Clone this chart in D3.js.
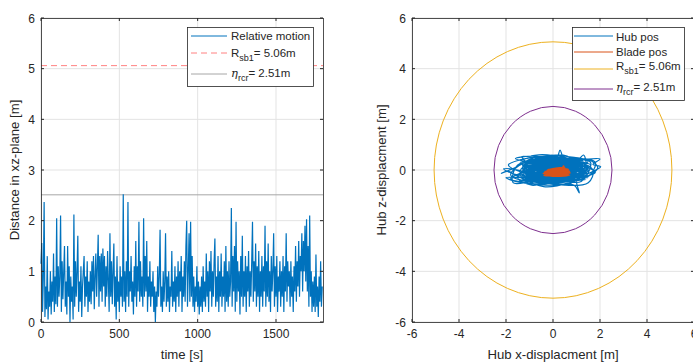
<!DOCTYPE html>
<html><head><meta charset="utf-8">
<script src="https://cdn.jsdelivr.net/npm/d3@7/dist/d3.min.js"></script>
<style>
body{margin:0;background:#fff;}
svg{display:block;font-family:"Liberation Sans",Arial,Helvetica,sans-serif;}
</style></head><body>
<svg id="c" width="693" height="362"></svg>
<script>
// ---------- data ----------
const timeStep = 5; // s between samples
const relMotion = [
1.15,1.56,0.2,0.9,2.37,0.1,0.7,0.25,1.3,0.05,
0.6,0.3,1.0,0.15,0.8,0.4,1.35,0.2,0.9,0.35,
2.05,0.3,1.1,0.5,0.9,2.1,0.2,1.2,0.45,1.0,
1.5,0.3,0.8,0.15,1.5,0.5,1.1,0.0,0.9,0.4,
0.7,0.05,2.12,0.3,1.2,0.5,1.0,1.7,0.2,0.8,
0.4,1.1,0.1,0.7,1.0,1.3,0.3,0.9,0.5,1.2,
0.2,0.8,0.4,1.0,0.35,1.2,0.6,1.3,0.25,0.9,
1.35,0.5,1.1,1.72,0.3,1.3,0.6,1.35,0.4,1.45,
0.7,1.3,0.3,1.1,0.5,1.4,0.8,0.2,1.75,0.5,
1.2,0.35,1.0,1.55,0.3,0.9,0.05,1.3,0.4,0.8,
0.2,1.1,0.5,0.9,0.3,2.52,0.4,1.0,0.2,1.2,
0.5,2.37,0.3,1.0,0.6,1.3,0.4,0.8,0.15,1.1,
0.5,1.6,0.3,1.1,0.6,1.98,0.4,1.2,0.5,0.9,
0.3,2.05,0.5,1.3,0.6,1.6,0.2,0.9,0.5,1.2,
0.3,0.8,0.5,1.0,0.2,0.7,0.0,0.6,0.3,1.1,
0.5,0.9,1.82,0.3,0.7,0.2,1.0,0.4,0.8,1.75,
0.3,0.9,0.4,1.0,0.2,0.7,0.5,1.4,0.3,0.8,
0.4,1.1,0.2,0.9,0.5,1.2,0.3,1.0,0.6,1.3,
0.2,0.9,0.5,1.2,0.4,1.5,2.0,0.3,1.0,1.75,
0.4,1.98,0.5,1.3,0.3,0.9,0.2,0.7,0.4,1.1,
0.3,0.8,0.15,0.7,0.3,0.9,0.2,1.1,0.4,0.8,
0.3,1.35,0.5,1.0,0.2,1.2,0.6,1.4,0.3,1.0,
0.5,1.2,1.65,0.3,0.9,0.4,1.3,0.2,1.0,0.5,
1.35,0.3,0.9,0.5,1.2,0.2,1.5,0.4,1.0,0.3,
1.2,0.5,0.8,2.25,0.3,1.3,0.6,1.5,0.2,1.98,
0.4,1.2,0.6,1.0,0.15,1.3,0.5,1.7,0.3,1.0,
0.5,1.3,0.2,1.1,0.6,1.4,0.3,1.0,0.5,1.2,
1.98,0.4,1.2,0.6,1.55,0.3,1.1,0.5,1.4,0.2,
1.0,0.5,1.3,0.3,1.1,0.6,1.9,0.3,1.2,0.5,
1.55,0.4,1.0,0.2,1.3,0.6,1.0,1.75,0.3,1.1,
0.5,1.3,0.2,0.9,0.6,1.2,0.3,1.0,0.5,1.3,
0.2,1.1,0.6,1.75,0.4,1.2,0.7,1.0,0.3,1.2,
0.5,0.9,0.2,1.1,0.6,1.5,0.4,1.2,0.7,1.6,
0.5,1.3,1.0,1.75,0.6,1.6,1.0,1.9,0.8,2.03,
0.6,1.5,0.3,2.1,0.5,1.0,0.2,0.8,0.3,0.9,
0.2,1.33,0.3,0.7,0.1,0.9,0.4,1.2,0.3,0.7
];
const R_sb1 = 5.06;
const eta_rcr = 2.51;

const hubX = [0.0,1.2,-0.8,-1.4,0.5,1.5,0.2,-1.2,-1.8,-0.6,0.9,1.4,0.45,0.3,0.15,-1.0,-1.3,0.2,0.9,1.12,1.0,1.4,1.3,1.05,-0.5,-1.33,-1.2,-1.6,-2.2,-1.9,-1.6,-0.4,0.7,1.6,2.03,1.7,2.0,1.1,-0.2,-1.5,-1.7,-0.9,0.4,1.3,1.0,-0.3,-1.1,-0.2,0.8,0.6,-0.7,-1.5,-0.9,0.1,1.2,1.6,0.9,-0.3,-1.4,-1.9,-1.3,0.0,1.0,1.8,1.3,0.0,-1.2,-0.8,0.5,1.5,1.7,0.7,-0.6,-1.0,-0.2,0.9,0.3,-1.0,-2.0,-1.6,-0.7,0.6,1.4,1.9,1.5,0.5,-0.5,-1.3,-0.9,0.2,1.0,0.4,-0.7,-1.5,-2.1,-1.7,-0.6,0.6,1.5,1.8,1.0,-0.1,-1.0,-1.6,-0.8,0.4,1.3,0.8,-0.3,-1.2,-1.8,-1.0,0.3,1.1,0.6,-0.4,-1.2,-0.3,0.9,1.6,0.8,-0.5,-1.4,-0.6,0.5,1.1,
 0.2,-0.9,-1.3,-0.4,0.7,1.4,1.1,0.0,-1.1,-1.2,0.1,1.3,1.2,-0.2,-1.0,-0.5,0.6,1.5,0.7,-0.6,-1.3,-0.8,0.4,1.2,0.9,-0.4,-1.2,-1.0,0.3,1.4,1.0,-0.1,-0.9,-1.3,-0.2,0.8,1.3,0.5,-0.7,-1.1,0.0,1.0,1.4,0.3,-0.8,-1.3,-0.5,0.6,1.2,0.4,-0.6,-1.2,-0.3,0.9,1.5,0.6,-0.4,-1.0,0.0,
 -1.3,1.4,-1.2,1.5,-1.4,1.3,-1.1,1.5,-1.3,1.4,-1.2,1.3,-1.4,1.5,-1.1,1.4,-1.3,1.2,-1.2,1.5,-1.4,1.3,-1.0,1.4,-1.3,1.5,-1.2,1.3,-1.4,1.4,
 1.1,-0.9,1.3,-1.2,0.9,-1.3,1.4,-1.0,1.2,-1.3,1.0,-1.1,1.4,-1.3,1.2,-0.8,1.3,-1.2,1.1,-1.4,0.0];
const hubZ = [0.0,0.3,0.42,-0.1,-0.42,0.1,0.45,0.3,-0.2,-0.5,-0.35,0.35,0.5,0.79,0.45,0.1,-0.35,-0.55,-0.6,-0.9,-0.4,0.2,0.59,0.4,0.45,0.53,0.35,0.1,-0.13,-0.05,-0.2,-0.66,-0.5,-0.1,0.13,0.22,0.43,0.4,0.35,0.2,-0.5,-0.45,-0.3,-0.2,0.25,0.4,-0.2,-0.45,-0.1,0.35,0.3,-0.3,-0.6,-0.4,-0.45,0.3,0.5,0.55,0.4,0.2,-0.1,-0.3,-0.3,-0.1,0.15,0.2,0.05,-0.35,-0.6,-0.5,0.0,0.45,0.6,0.5,0.25,0.1,-0.2,-0.3,-0.3,-0.45,-0.55,-0.45,-0.3,0.1,0.4,0.2,0.0,0.2,0.45,0.5,0.3,-0.1,-0.2,0.0,0.05,-0.15,-0.3,-0.25,-0.25,0.3,0.45,0.1,0.3,0.45,0.55,0.3,-0.05,-0.5,-0.6,-0.5,-0.35,0.0,0.2,0.15,0.55,0.5,0.1,-0.2,-0.2,0.2,0.3,0.2,-0.2,-0.45,-0.35,0.0,
 -0.3,-0.4,-0.05,0.35,0.4,0.05,-0.35,-0.45,-0.25,0.2,0.4,0.3,-0.2,-0.4,0.0,0.4,0.35,0.0,-0.4,-0.4,0.1,0.4,0.4,0.15,-0.35,-0.45,-0.1,0.3,0.42,0.25,-0.2,-0.45,-0.3,0.1,0.42,0.4,0.0,-0.42,-0.4,-0.05,0.35,0.45,0.15,-0.3,-0.45,-0.2,0.25,0.45,0.3,-0.1,-0.42,-0.35,0.05,0.4,0.35,-0.05,-0.4,-0.3,0.0,
 -0.42,-0.38,-0.33,-0.3,-0.26,-0.22,-0.18,-0.14,-0.1,-0.07,-0.03,0.0,0.04,0.07,0.1,0.14,0.18,0.21,0.25,0.28,0.31,0.35,0.38,0.41,0.36,0.27,0.16,0.05,-0.08,-0.2,
 -0.4,-0.35,-0.28,-0.24,-0.16,-0.12,-0.05,0.02,0.08,0.12,0.19,0.23,0.29,0.33,0.4,0.44,0.3,0.12,-0.15,-0.3,0.0];
const bladeX = [0.0,0.6,-0.3,0.5,-0.35,0.7,0.1,-0.2,0.65,0.3,-0.4,0.55,0.0,0.7,-0.2,0.4,0.45,0.35,-0.3,0.6,-0.1,0.2,0.72,-0.25,0.5,0.1,-0.38,0.65,0.0,0.3,-0.2,0.6,-0.42,0.7,0.0];
const bladeZ = [-0.1,0.0,-0.2,-0.22,-0.05,-0.1,0.05,-0.18,-0.2,0.0,-0.12,0.05,-0.22,-0.05,0.02,-0.15,0.15,0.0,-0.1,-0.18,-0.22,0.05,-0.12,-0.02,0.08,-0.2,-0.2,0.02,0.0,-0.24,-0.08,-0.1,-0.14,-0.2,-0.1];

const leftXTicks = [0,500,1000,1500];
const leftYTicks = [0,1,2,3,4,5,6];
const rightTicks = [-6,-4,-2,0,2,4,6];

// ---------- drawing ----------
const svg = d3.select("#c");
const axisCol = "#262626", gridCol = "#e3e3e3";
const C = {blue:"#0072BD", orange:"#D95319", yellow:"#EDB120", purple:"#7E2F8E"};
const tickFont = 12, labelFont = 13.2, legFont = 11.5;

function frame(x, y, xt, yt){
  const [x0,x1] = x.range(), [y0,y1] = y.range();
  const g = svg.append("g");
  g.selectAll(".gx").data(xt).join("line").attr("x1",d=>x(d)).attr("x2",d=>x(d)).attr("y1",y0).attr("y2",y1).attr("stroke",gridCol);
  g.selectAll(".gy").data(yt).join("line").attr("y1",d=>y(d)).attr("y2",d=>y(d)).attr("x1",x0).attr("x2",x1).attr("stroke",gridCol);
  return g;
}
function axesOver(x, y, xt, yt, xlabel, ylabel, ylabX){
  const [x0,x1] = x.range(), [y0,y1] = y.range();
  const g = svg.append("g");
  const tk = 3;
  g.append("rect").attr("x",x0+0.5).attr("y",y1+0.5).attr("width",x1-x0).attr("height",y0-y1).attr("fill","none").attr("stroke",axisCol).attr("stroke-width",0.8);
  xt.forEach(d=>{
    g.append("line").attr("x1",x(d)).attr("x2",x(d)).attr("y1",y0).attr("y2",y0-tk).attr("stroke",axisCol);
    g.append("line").attr("x1",x(d)).attr("x2",x(d)).attr("y1",y1).attr("y2",y1+tk).attr("stroke",axisCol);
    g.append("text").attr("x",x(d)).attr("y",y0+16).attr("text-anchor","middle").attr("font-size",tickFont).attr("fill",axisCol).text(d);
  });
  yt.forEach(d=>{
    g.append("line").attr("y1",y(d)).attr("y2",y(d)).attr("x1",x0).attr("x2",x0+tk).attr("stroke",axisCol);
    g.append("line").attr("y1",y(d)).attr("y2",y(d)).attr("x1",x1).attr("x2",x1-tk).attr("stroke",axisCol);
    g.append("text").attr("x",x0-6).attr("y",y(d)+4.5).attr("text-anchor","end").attr("font-size",tickFont).attr("fill",axisCol).text(d);
  });
  g.append("text").attr("x",(x0+x1)/2).attr("y",359).attr("text-anchor","middle").attr("font-size",labelFont).attr("fill",axisCol).text(xlabel);
  g.append("text").attr("transform",`translate(${ylabX},${(y0+y1)/2}) rotate(-90)`).attr("text-anchor","middle").attr("font-size",labelFont).attr("fill",axisCol).text(ylabel);
}

// Left plot
const xL = d3.scaleLinear().domain([0,1800]).range([41,323]);
const yL = d3.scaleLinear().domain([0,6]).range([322,18]);
frame(xL,yL,leftXTicks,leftYTicks);
svg.append("line").attr("x1",xL(0)).attr("x2",xL(1800)).attr("y1",yL(R_sb1)).attr("y2",yL(R_sb1)).attr("stroke","#ff8080").attr("stroke-width",1).attr("stroke-dasharray","6,4");
svg.append("line").attr("x1",xL(0)).attr("x2",xL(1800)).attr("y1",yL(eta_rcr)).attr("y2",yL(eta_rcr)).attr("stroke","#a6a6a6").attr("stroke-width",1);
svg.append("path").datum(relMotion).attr("fill","none").attr("stroke",C.blue).attr("stroke-width",1.2)
  .attr("d",d3.line().x((d,i)=>xL(i*timeStep)).y(d=>yL(d)));
axesOver(xL,yL,leftXTicks,leftYTicks,"time [s]","Distance in xz-plane [m]",19);

// Right plot
const xR = d3.scaleLinear().domain([-6,6]).range([412,694]);
const yR = d3.scaleLinear().domain([-6,6]).range([322,18]);
frame(xR,yR,rightTicks,rightTicks);
const hub = hubX.map((v,i)=>[v,hubZ[i]]);
const blade = bladeX.map((v,i)=>[v,bladeZ[i]]);
const ln = d3.line().curve(d3.curveCatmullRom.alpha(0.5)).x(d=>xR(d[0])).y(d=>yR(d[1]));
svg.append("path").datum(hub).attr("fill","none").attr("stroke",C.blue).attr("stroke-width",1.2).attr("d",ln);
svg.append("path").datum(blade).attr("fill","none").attr("stroke",C.orange).attr("stroke-width",1.8).attr("d",ln);
[[R_sb1,C.yellow],[eta_rcr,C.purple]].forEach(([r,c])=>{
  svg.append("ellipse").attr("cx",xR(0)).attr("cy",yR(0)).attr("rx",xR(r)-xR(0)).attr("ry",yR(0)-yR(r))
    .attr("fill","none").attr("stroke",c).attr("stroke-width",1);
});
axesOver(xR,yR,rightTicks,rightTicks,"Hub x-displacment [m]","Hub z-displacment [m]",386);

// Legends
function legend(x0,y0,w,h,items,lineX0,lineX1,textX){
  const g = svg.append("g");
  g.append("rect").attr("x",x0+0.5).attr("y",y0+0.5).attr("width",w).attr("height",h).attr("fill","#fff").attr("stroke",axisCol).attr("stroke-width",0.8);
  items.forEach(it=>{
    g.append("line").attr("x1",lineX0).attr("x2",lineX1).attr("y1",it.ly).attr("y2",it.ly).attr("stroke",it.color).attr("stroke-width",1).attr("stroke-dasharray",it.dash||null);
    const t = g.append("text").attr("x",textX).attr("y",it.ty).attr("font-size",legFont).attr("fill",axisCol);
    if(it.sub){
      t.append("tspan").text(it.main).attr("font-style",it.italic?"italic":null).attr("font-family",it.italic?"DejaVu Serif, serif":null);
      t.append("tspan").attr("dy",4).attr("font-size",9).text(it.sub);
      t.append("tspan").attr("dy",-4).text(it.rest);
    } else t.text(it.main);
  });
}
legend(187,27,126,59,[
  {main:"Relative motion",color:C.blue,ly:36,ty:40},
  {main:"R",sub:"sb1",rest:"= 5.06m",color:"#ff8080",dash:"6,4",ly:53,ty:57},
  {main:"\u03b7",italic:true,sub:"rcr",rest:"= 2.51m",color:"#a6a6a6",ly:74,ty:77}
],191,227,231);
legend(572,27,112,73,[
  {main:"Hub pos",color:C.blue,ly:36,ty:41},
  {main:"Blade pos",color:C.orange,ly:52,ty:56},
  {main:"R",sub:"sb1",rest:"= 5.06m",color:C.yellow,ly:69,ty:70},
  {main:"\u03b7",italic:true,sub:"rcr",rest:"= 2.51m",color:C.purple,ly:89,ty:91}
],574,613,616);
</script>
</body></html>
